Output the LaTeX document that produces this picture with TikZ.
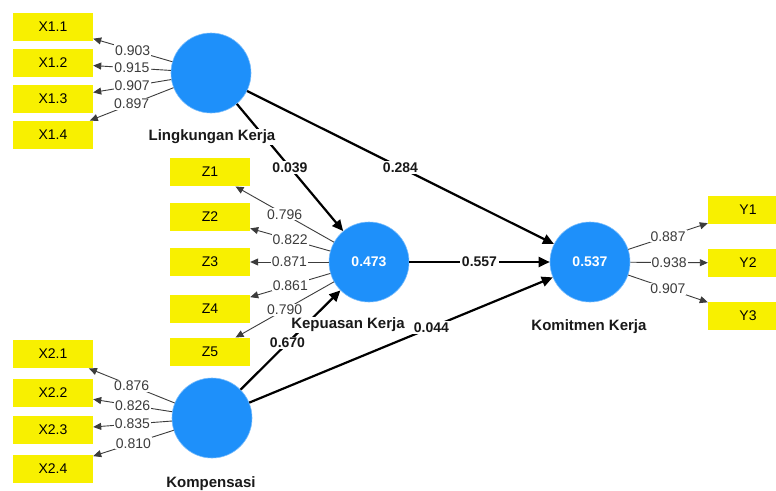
\documentclass[tikz,border=0pt]{standalone}
\usepackage{fontspec}
\setmainfont{Liberation Sans}
\usetikzlibrary{arrows.meta}
\definecolor{lvblue}{RGB}{30,144,250}
\definecolor{indyel}{RGB}{248,240,0}
\definecolor{loadgray}{RGB}{60,60,60}
\tikzset{
  lv/.style={circle,fill=lvblue,draw=lvblue!60,line width=0.6pt,minimum size=80pt,inner sep=0pt,text=white,font=\bfseries\fontsize{14}{16}\selectfont},
  indbox/.style={rectangle,fill=indyel,minimum width=80pt,minimum height=28.5pt,inner sep=0pt,text=black,font=\fontsize{14}{16}\selectfont},
  lvname/.style={fill=white,inner sep=1pt,text=black!90,font=\bfseries\fontsize{15}{17}\selectfont},
  loadline/.style={draw=loadgray,line width=0.9pt,-{Triangle[length=8pt,width=7pt]}},
  pathline/.style={draw=black,line width=2.2pt,-{Triangle[length=11pt,width=10pt]}},
  loadlab/.style={fill=white,inner sep=1pt,text=loadgray,font=\fontsize{14}{16}\selectfont},
  pathlab/.style={fill=white,inner sep=1.5pt,text=black!90,font=\bfseries\fontsize{14}{16}\selectfont}
}
\begin{document}
\begin{tikzpicture}[x=1pt,y=-1pt]
\clip (0,0) rectangle (776,490);
\fill[white] (0,0) rectangle (776,490);
% latent variables
\node[lv] (L) at (211,73) {};
\node[lv] (KP) at (369,262) {0.473};
\node[lv] (KM) at (590,262) {0.537};
\node[lv] (KO) at (212,418) {};
% indicators
\node[indbox] (x11) at (53,27) {X1.1};
\node[indbox] (x12) at (53,63) {X1.2};
\node[indbox] (x13) at (53,99) {X1.3};
\node[indbox] (x14) at (53,135) {X1.4};
\node[indbox] (z1) at (210,172) {Z1};
\node[indbox] (z2) at (210,217) {Z2};
\node[indbox] (z3) at (210,262) {Z3};
\node[indbox] (z4) at (210,309) {Z4};
\node[indbox] (z5) at (210,352) {Z5};
\node[indbox] (x21) at (53,354) {X2.1};
\node[indbox] (x22) at (53,393) {X2.2};
\node[indbox] (x23) at (53,430) {X2.3};
\node[indbox] (x24) at (53,469) {X2.4};
\node[indbox] (y1) at (748,210) {Y1};
\node[indbox] (y2) at (748,263) {Y2};
\node[indbox] (y3) at (748,316) {Y3};
% outer loadings
\draw[loadline] (L) -- node[loadlab]{0.903} (x11);
\draw[loadline] (L) -- node[loadlab]{0.915} (x12);
\draw[loadline] (L) -- node[loadlab]{0.907} (x13);
\draw[loadline] (L) -- node[loadlab]{0.897} (x14);
\draw[loadline] (KP) -- node[loadlab]{0.796} (z1);
\draw[loadline] (KP) -- node[loadlab]{0.822} (z2);
\draw[loadline] (KP) -- node[loadlab]{0.871} (z3);
\draw[loadline] (KP) -- node[loadlab]{0.861} (z4);
\draw[loadline] (KP) -- node[loadlab]{0.790} (z5);
\draw[loadline] (KO) -- node[loadlab]{0.876} (x21);
\draw[loadline] (KO) -- node[loadlab]{0.826} (x22);
\draw[loadline] (KO) -- node[loadlab]{0.835} (x23);
\draw[loadline] (KO) -- node[loadlab]{0.810} (x24);
\draw[loadline] (KM) -- node[loadlab]{0.887} (y1);
\draw[loadline] (KM) -- node[loadlab]{0.938} (y2);
\draw[loadline] (KM) -- node[loadlab]{0.907} (y3);
% structural paths
\draw[pathline] (L) -- node[pathlab]{0.039} (KP);
\draw[pathline] (L) -- node[pathlab]{0.284} (KM);
\draw[pathline] (KP) -- node[pathlab]{0.557} (KM);
\draw[pathline] (KO) -- node[pathlab,pos=0.47]{0.670} (KP);
\draw[pathline] (KO) -- node[pathlab,pos=0.6]{0.044} (KM);
% construct names
\node[lvname] (nL) at (212,137) {Lingkungan Kerja};
\node[lvname] (nKP) at (348,325) {Kepuasan Kerja};
\node[lvname] (nKM) at (589,327) {Komitmen Kerja};
\node[lvname] (nKO) at (211,484) {Kompensasi};
\end{tikzpicture}
\end{document}
